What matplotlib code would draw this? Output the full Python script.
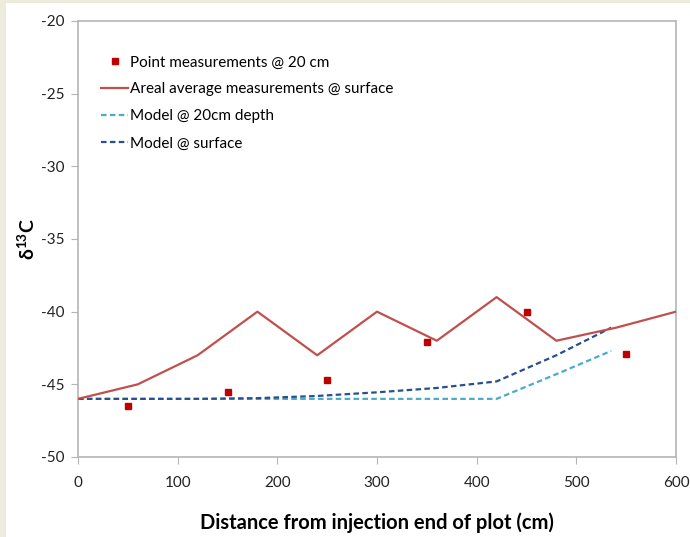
import numpy as np
import matplotlib.pyplot as plt
from matplotlib.patches import Rectangle

plt.rcParams['font.family'] = ['Lato', 'DejaVu Sans']
plt.rcParams['axes.unicode_minus'] = False
plt.rcParams['mathtext.fontset'] = 'custom'
plt.rcParams['mathtext.bf'] = 'Lato:bold'
plt.rcParams['mathtext.rm'] = 'Lato:bold'
plt.rcParams['mathtext.default'] = 'bf'

# point measurements @ 20 cm
pt_x = [50, 150, 250, 350, 450, 550]
pt_y = [-46.5, -45.5, -44.7, -42.1, -40.0, -42.9]

# areal average @ surface
areal_x = [0, 60, 120, 180, 240, 300, 360, 420, 480, 540, 600]
areal_y = [-46, -45, -43, -40, -43, -40, -42, -39, -42, -41.1, -40]

# model @ surface
surf_x = [0, 60, 120, 180, 240, 300, 360, 420, 480, 535]
surf_y = [-46, -46, -46, -45.95, -45.8, -45.55, -45.25, -44.8, -43.0, -41.1]

# model @ 20cm depth
deep_x = [0, 60, 120, 180, 240, 300, 360, 420, 480, 535]
deep_y = [-46, -46, -46, -46, -46, -46, -46, -46, -44.3, -42.7]

fig = plt.figure(figsize=(6.9, 5.37), dpi=100)
fig.patch.set_facecolor('#edecdc')
fig.patches.append(Rectangle((6 / 690, 0), 1, 1 - 3 / 537, transform=fig.transFigure,
                             facecolor='white', edgecolor='none', zorder=-10))

ax = fig.add_axes([78 / 690, 1 - 457 / 537, 598 / 690, 436 / 537])
ax.set_facecolor('white')

ax.plot(pt_x, pt_y, 's', color='#c00000', markersize=4.5, linestyle='none',
        label='Point measurements @ 20 cm', zorder=4)
ax.plot(areal_x, areal_y, '-', color='#c0504d', linewidth=1.6,
        label='Areal average measurements @ surface', zorder=3)
ax.plot(deep_x, deep_y, '--', color='#4bacc6', linewidth=1.6, dashes=(2.5, 1.5),
        label='Model @ 20cm depth', zorder=2)
ax.plot(surf_x, surf_y, '--', color='#2a4f8f', linewidth=1.6, dashes=(2.5, 1.5),
        label='Model @ surface', zorder=2)

ax.set_xlim(0, 600)
ax.set_ylim(-50, -20)
ax.set_xticks(np.arange(0, 601, 100))
ax.set_yticks(np.arange(-50, -19, 5))

for s in ax.spines.values():
    s.set_color('#b5b5b5')
    s.set_linewidth(1.2)
ax.tick_params(direction='out', length=5, color='#b5b5b5', labelsize=11,
               labelcolor='#222222')
ax.tick_params(axis='x', pad=9)
ax.tick_params(axis='y', pad=5)

ax.set_xlabel('Distance from injection end of plot (cm)', fontsize=14.5,
              fontweight='bold', labelpad=16)
ax.set_ylabel('δ$^{13}$C', fontsize=14, fontweight='bold', labelpad=2)

leg = ax.legend(loc='upper left', bbox_to_anchor=(0.028, 0.935), frameon=False,
                fontsize=11, handlelength=1.8, handletextpad=0.1,
                labelspacing=0.85, borderaxespad=0)

plt.savefig('out.png', dpi=100)
plt.close()
